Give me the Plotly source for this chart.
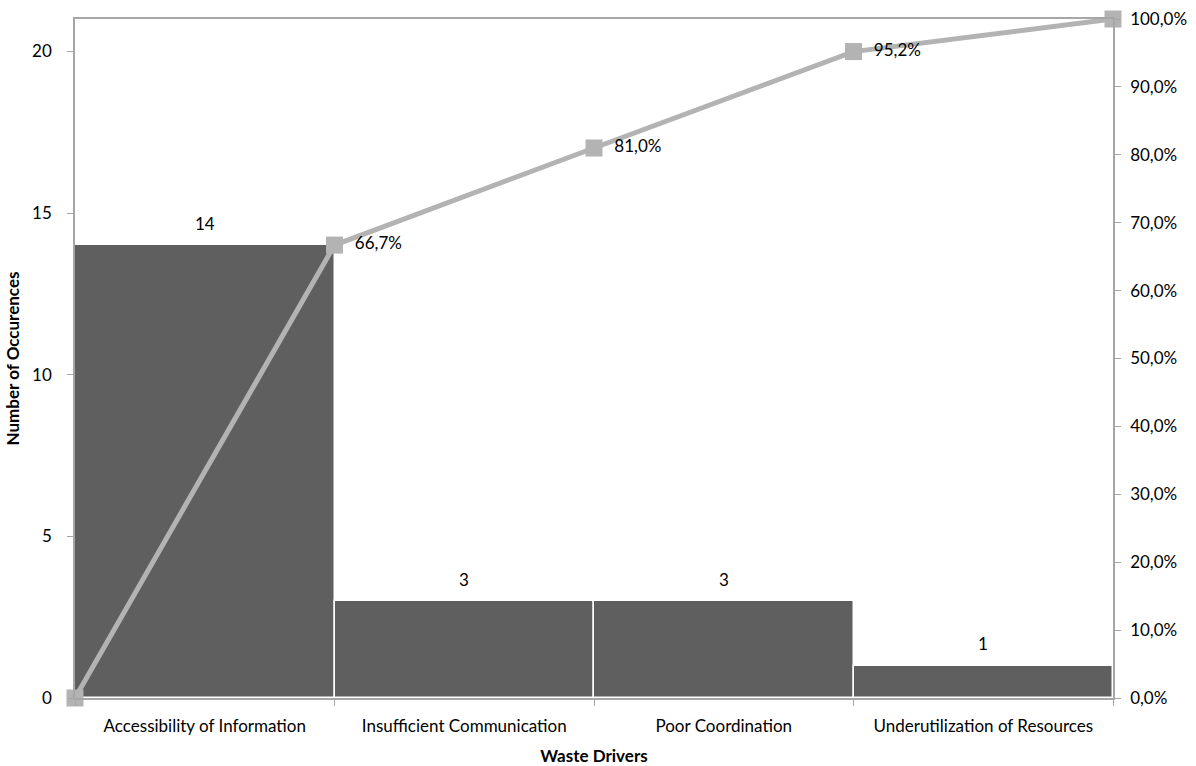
import plotly.graph_objects as go

categories = ["Accessibility of Information", "Insufficient Communication",
              "Poor Coordination", "Underutilization of Resources"]
occurrences = [14, 3, 3, 1]
cumulative_pct = [0.0, 66.7, 81.0, 95.2, 100.0]
cum_labels = ["", "66,7%", "81,0%", "95,2%", ""]
left_ticks = [0, 5, 10, 15, 20]
right_ticks = [0, 10, 20, 30, 40, 50, 60, 70, 80, 90, 100]
right_tick_labels = ["0,0%", "10,0%", "20,0%", "30,0%", "40,0%", "50,0%",
                     "60,0%", "70,0%", "80,0%", "90,0%", "100,0%"]

bar_x = [i + 0.5 for i in range(len(categories))]
line_x = list(range(len(categories) + 1))

FONT = "Lato, 'Open Sans', sans-serif"
FS = 17
AXIS_COL = "#a6a6a6"
NB = "\u00a0\u00a0"

fig = go.Figure()
fig.add_trace(go.Bar(
    x=bar_x, y=occurrences, width=1.0,
    marker=dict(color="#5f5f5f", line=dict(color="white", width=1.5)),
    showlegend=False,
))
fig.add_trace(go.Scatter(
    x=line_x, y=cumulative_pct, yaxis="y2", mode="lines+markers+text",
    line=dict(color="#b3b3b3", width=5),
    marker=dict(symbol="square", size=17, color="#b3b3b3"),
    text=[(NB + t) if t else "" for t in cum_labels], textposition="middle right",
    textfont=dict(family=FONT, size=FS, color="#000000"),
    cliponaxis=False, showlegend=False,
))

for xv, yv in zip(bar_x, occurrences):
    fig.add_annotation(x=xv, y=yv, xref="x", yref="y", text=str(yv),
                       showarrow=False, yshift=22,
                       font=dict(family=FONT, size=FS, color="#000000"))

fig.update_layout(
    width=1196, height=766,
    margin=dict(l=75, r=83, t=19, b=68),
    plot_bgcolor="white", paper_bgcolor="white",
    font=dict(family=FONT, size=FS, color="#000000"),
    bargap=0,
    xaxis=dict(
        range=[0, 4], tickmode="array", tickvals=bar_x, ticktext=categories,
        ticks="", showgrid=False, zeroline=False, automargin=False,
        showline=True, linecolor=AXIS_COL, linewidth=1.5, mirror=True,
        tickfont=dict(family=FONT, size=FS), ticklabelstandoff=12,
        minor=dict(tickmode="array", tickvals=line_x, ticks="outside",
                   ticklen=6, tickcolor=AXIS_COL, showgrid=False),
        title=dict(text="<b>Waste Drivers</b>", font=dict(family=FONT, size=FS), standoff=16),
    ),
    yaxis=dict(
        range=[0, 21], tickmode="array", tickvals=left_ticks, ticks="outside", ticklen=6,
        tickcolor=AXIS_COL, showgrid=False, zeroline=False, automargin=False,
        showline=True, linecolor=AXIS_COL, linewidth=1.5,
        tickfont=dict(family=FONT, size=FS), ticklabelstandoff=12,
        title=dict(text="<b>Number of Occurences</b>", font=dict(family=FONT, size=FS), standoff=8),
    ),
    yaxis2=dict(
        range=[0, 100], overlaying="y", side="right", automargin=False,
        tickmode="array", tickvals=right_ticks, ticktext=right_tick_labels,
        ticks="outside", ticklen=6, tickcolor=AXIS_COL, showgrid=False, zeroline=False,
        showline=True, linecolor=AXIS_COL, linewidth=1.5,
        tickfont=dict(family=FONT, size=FS), ticklabelstandoff=6,
    ),
)

fig.write_html("out.html")
